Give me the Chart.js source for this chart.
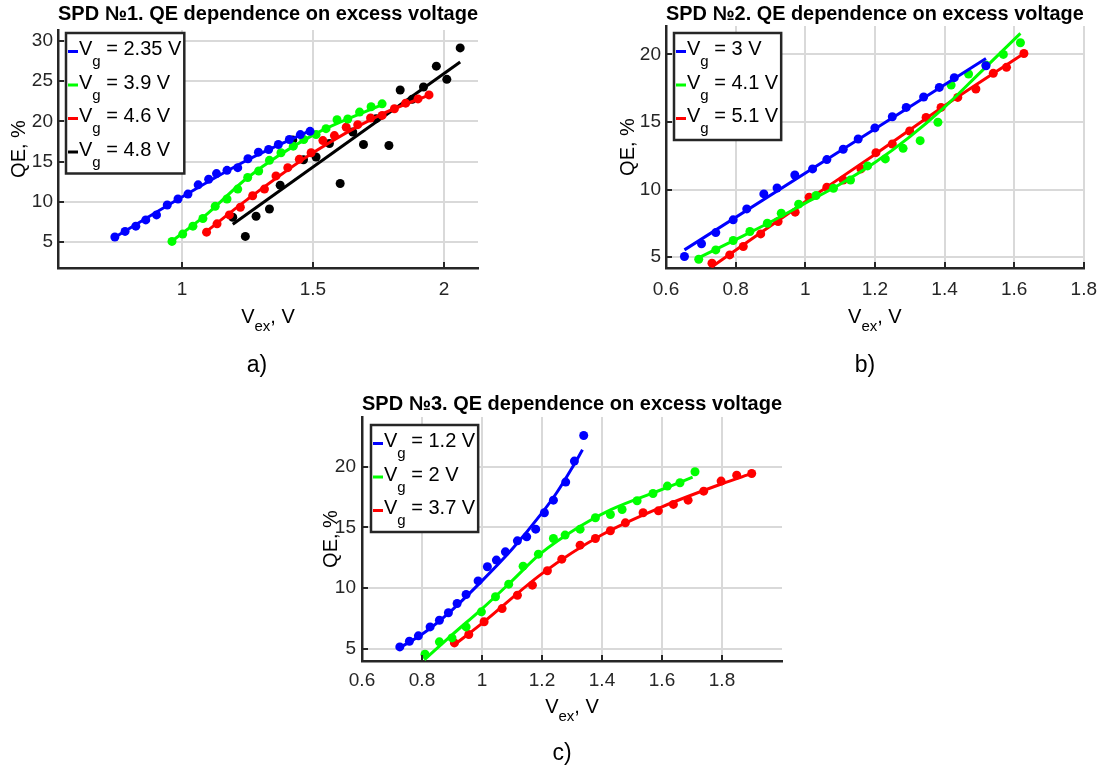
<!DOCTYPE html>
<html>
<head>
<meta charset="utf-8">
<title>SPD QE dependence on excess voltage</title>
<script src="https://cdn.jsdelivr.net/npm/chart.js@4.4.1/dist/chart.umd.min.js"></script>
<style>
  html, body { margin: 0; padding: 0; background: #fff; }
  body { width: 1107px; height: 768px; position: relative; overflow: hidden; }
  .panel { position: absolute; }
</style>
</head>
<body>
<div class="panel" style="left:0px;top:0px;width:500px;height:385px"><canvas id="chartA"></canvas></div>
<div class="panel" style="left:560px;top:0px;width:547px;height:385px"><canvas id="chartB"></canvas></div>
<div class="panel" style="left:262px;top:385px;width:540px;height:383px"><canvas id="chartC"></canvas></div>
<script>
// ---- a) SPD №1 ----
var aTicksX = [1, 1.5, 2];
var aTicksY = [5, 10, 15, 20, 25, 30];
var aGate = ['2.35', '3.9', '4.6', '4.8'];

var aVex235 = [0.744, 0.783, 0.824, 0.862, 0.903, 0.944, 0.985, 1.023, 1.062, 1.102, 1.132, 1.172, 1.213, 1.252, 1.292, 1.331, 1.368, 1.41, 1.452, 1.489];
var aQe235  = [5.62, 6.32, 6.97, 7.75, 8.37, 9.6, 10.35, 10.96, 12.11, 12.81, 13.51, 13.92, 14.25, 15.36, 16.18, 16.51, 17.13, 17.75, 18.36, 18.77];
var aFitX235 = [0.744, 1.0, 1.25, 1.5];
var aFitY235 = [5.6, 10.6, 15.2, 19.0];

var aVex39 = [0.962, 1.003, 1.042, 1.08, 1.127, 1.172, 1.213, 1.251, 1.293, 1.334, 1.378, 1.425, 1.465, 1.512, 1.55, 1.592, 1.633, 1.678, 1.722, 1.764];
var aQe39  = [5.08, 5.99, 6.97, 7.92, 9.44, 10.35, 11.58, 13.02, 13.84, 15.16, 16.1, 16.92, 17.75, 18.36, 19.1, 20.21, 20.3, 21.16, 21.82, 22.19];
var aFitX39 = [0.958, 1.1, 1.25, 1.5, 1.773];
var aFitY39 = [5.0, 8.6, 13.0, 18.3, 22.2];

var aVex46 = [1.094, 1.134, 1.181, 1.223, 1.27, 1.315, 1.359, 1.404, 1.448, 1.493, 1.538, 1.582, 1.627, 1.671, 1.72, 1.764, 1.811, 1.854, 1.901, 1.943];
var aQe46  = [6.23, 7.26, 8.37, 9.32, 10.76, 11.58, 13.22, 14.25, 15.28, 16.1, 17.62, 18.24, 19.27, 19.6, 20.42, 20.75, 21.57, 22.27, 22.8, 23.3];
var aFitX46 = [1.085, 1.25, 1.5, 1.75, 1.952];
var aFitY46 = [6.1, 10.3, 16.1, 20.7, 23.4];

var aVex48 = [1.194, 1.242, 1.283, 1.334, 1.375, 1.423, 1.464, 1.512, 1.563, 1.604, 1.652, 1.693, 1.741, 1.79, 1.833, 1.879, 1.922, 1.971, 2.011, 2.062];
var aQe48  = [8.08, 5.70, 8.21, 9.11, 12.07, 17.7, 15.24, 15.57, 17.25, 12.28, 18.69, 17.13, 20.34, 17.0, 23.91, 22.76, 24.28, 26.87, 25.23, 29.14];
var aFitX48 = [1.194, 2.062];
var aFitY48 = [7.2, 27.4];

// ---- b) SPD №2 ----
var bTicksX = [0.6, 0.8, 1, 1.2, 1.4, 1.6, 1.8];
var bTicksY = [5, 10, 15, 20];
var bGate = ['3', '4.1', '5.1'];

var bVex3 = [0.653, 0.702, 0.743, 0.793, 0.832, 0.881, 0.919, 0.970, 1.021, 1.062, 1.109, 1.152, 1.2, 1.25, 1.29, 1.34, 1.385, 1.428, 1.519];
var bQe3  = [5.05, 5.99, 6.82, 7.76, 8.57, 9.68, 10.12, 11.08, 11.53, 12.22, 12.98, 13.74, 14.56, 15.39, 16.08, 16.85, 17.56, 18.28, 19.16];
var bFitX3 = [0.653, 1.519];
var bFitY3 = [5.54, 19.7];

var bVex41 = [0.694, 0.743, 0.793, 0.841, 0.891, 0.931, 0.981, 1.031, 1.081, 1.130, 1.179, 1.230, 1.281, 1.330, 1.381, 1.419, 1.469, 1.519, 1.569, 1.618];
var bQe41  = [4.85, 5.54, 6.23, 6.90, 7.51, 8.25, 8.92, 9.56, 10.10, 10.71, 11.75, 12.27, 13.05, 13.62, 14.98, 17.73, 18.55, 19.21, 20.0, 20.86];
var bFitX41 = [0.686, 0.8, 0.9, 1.0, 1.1, 1.2, 1.3, 1.4, 1.5, 1.618];
var bFitY41 = [4.85, 6.3, 7.6, 9.0, 10.4, 12.0, 13.9, 16.1, 18.6, 21.55];

var bVex51 = [0.732, 0.783, 0.822, 0.872, 0.922, 0.971, 1.011, 1.062, 1.109, 1.160, 1.203, 1.25, 1.3, 1.347, 1.39, 1.438, 1.49, 1.54, 1.578, 1.628];
var bQe51  = [4.56, 5.17, 5.79, 6.72, 7.64, 8.33, 9.43, 10.17, 10.71, 11.53, 12.73, 13.37, 14.33, 15.34, 16.08, 16.82, 17.44, 18.6, 19.04, 20.07];
var bFitX51 = [0.732, 1.0, 1.2, 1.4, 1.628];
var bFitY51 = [4.3, 9.1, 12.6, 16.2, 20.07];

// ---- c) SPD №3 ----
var cTicksX = [0.6, 0.8, 1, 1.2, 1.4, 1.6, 1.8];
var cTicksY = [5, 10, 15, 20];
var cGate = ['1.2', '2', '3.7'];

var cVex12 = [0.726, 0.758, 0.788, 0.827, 0.858, 0.888, 0.917, 0.947, 0.987, 1.018, 1.048, 1.078, 1.118, 1.149, 1.179, 1.208, 1.238, 1.279, 1.308, 1.339];
var cQe12  = [5.16, 5.63, 6.07, 6.81, 7.36, 7.97, 8.74, 9.48, 10.6, 11.76, 12.31, 12.99, 13.9, 14.23, 14.86, 16.21, 17.25, 18.74, 20.47, 22.58];
var cFitX12 = [0.726, 0.8, 0.9, 1.0, 1.1, 1.2, 1.25, 1.3, 1.335];
var cFitY12 = [5.1, 6.2, 8.2, 10.6, 13.2, 16.2, 17.9, 19.9, 21.4];

var cVex2 = [0.81, 0.858, 0.9, 0.947, 0.998, 1.045, 1.089, 1.137, 1.188, 1.238, 1.277, 1.327, 1.378, 1.428, 1.467, 1.517, 1.57, 1.618, 1.66, 1.71];
var cQe2  = [4.56, 5.58, 5.9, 6.81, 8.05, 9.29, 10.33, 11.81, 12.8, 14.09, 14.37, 14.86, 15.8, 16.07, 16.48, 17.2, 17.8, 18.41, 18.68, 19.59];
var cFitX2 = [0.808, 0.9, 1.0, 1.1, 1.193, 1.327, 1.428, 1.618, 1.702];
var cFitY2 = [4.1, 6.15, 8.3, 10.6, 12.8, 15.1, 16.45, 18.3, 19.15];

var cVex37 = [0.908, 0.956, 1.007, 1.067, 1.118, 1.168, 1.218, 1.266, 1.327, 1.378, 1.428, 1.478, 1.537, 1.588, 1.638, 1.687, 1.739, 1.797, 1.849, 1.899];
var cQe37  = [5.49, 6.18, 7.23, 8.32, 9.42, 10.25, 11.43, 12.39, 13.54, 14.09, 14.73, 15.38, 16.21, 16.37, 16.9, 17.25, 17.99, 18.82, 19.31, 19.45];
var cFitX37 = [0.906, 1.0, 1.2, 1.4, 1.6, 1.8, 1.9];
var cFitY37 = [5.3, 7.1, 11.2, 14.4, 16.7, 18.6, 19.45];

var blue = '#0000ff', green = '#00ff00', red = '#ff0000', black = '#000000';
var fontFamily = "'Liberation Sans', Arial, Helvetica, sans-serif";
var inkColor = '#262626';

function pts(xs, ys) {
    return xs.map(function(x, i) { return {x: x, y: ys[i]}; });
}

function buildDatasets(series) {
    var ds = [];
    series.forEach(function(s) {
        ds.push({
            data: pts(s.vex, s.qe),
            showLine: false,
            pointRadius: 4.5,
            pointHoverRadius: 4.5,
            backgroundColor: s.color,
            borderColor: s.color,
            borderWidth: 0
        });
        ds.push({
            data: pts(s.fitX, s.fitY),
            showLine: true,
            pointRadius: 0,
            borderColor: s.color,
            borderWidth: 3,
            cubicInterpolationMode: 'monotone',
            fill: false
        });
    });
    return ds;
}

// matlab-like extras: inward ticks, legend and x label with subscripts, panel letter
var matlabDecor = {
    id: 'matlabDecor',
    afterDraw: function(chart, args, o) {
        var ctx = chart.ctx, area = chart.chartArea;
        var sx = chart.scales.x, sy = chart.scales.y;
        var big = '20px ' + fontFamily, small = '15px ' + fontFamily;
        ctx.save();

        ctx.strokeStyle = inkColor;
        ctx.lineWidth = 2;
        ctx.beginPath();
        sx.ticks.forEach(function(t) {
            var p = Math.round(sx.getPixelForValue(t.value));
            ctx.moveTo(p, area.bottom);
            ctx.lineTo(p, area.bottom - 6);
        });
        sy.ticks.forEach(function(t) {
            var p = Math.round(sy.getPixelForValue(t.value));
            ctx.moveTo(area.left, p);
            ctx.lineTo(area.left + 6, p);
        });
        ctx.stroke();

        // x axis title
        ctx.fillStyle = '#000';
        ctx.textAlign = 'left';
        ctx.textBaseline = 'alphabetic';
        ctx.font = big;
        var w1 = ctx.measureText('V').width;
        var w3 = ctx.measureText(', V').width;
        ctx.font = small;
        var w2 = ctx.measureText('ex').width;
        var tx = (area.left + area.right) / 2 - (w1 + w2 + w3) / 2;
        var tb = o.xTitleBaseline;
        ctx.font = big;
        ctx.fillText('V', tx, tb);
        ctx.font = small;
        ctx.fillText('ex', tx + w1, tb + 8);
        ctx.font = big;
        ctx.fillText(', V', tx + w1 + w2, tb);

        // legend
        var lx = area.left + o.legendDx, ly = area.top + o.legendDy;
        var rows = o.gate.map(function(g) { return ' = ' + g + ' V'; });
        ctx.font = big;
        var wV = ctx.measureText('V').width;
        var wMax = 0;
        rows.forEach(function(r) { wMax = Math.max(wMax, ctx.measureText(r).width); });
        ctx.font = small;
        var wg = ctx.measureText('g').width;
        var bw = 13 + wV + wg + wMax + 3;
        var bh = 22 + (rows.length - 1) * 33.5 + 18;
        ctx.fillStyle = '#fff';
        ctx.fillRect(lx, ly, bw, bh);
        rows.forEach(function(r, i) {
            var base = ly + 22 + i * 33.5;
            ctx.strokeStyle = o.colors[i];
            ctx.lineWidth = 3;
            ctx.beginPath();
            ctx.moveTo(lx + 2, base - 3.5);
            ctx.lineTo(lx + 12, base - 3.5);
            ctx.stroke();
            ctx.fillStyle = '#000';
            ctx.font = big;
            ctx.fillText('V', lx + 13, base);
            ctx.font = small;
            ctx.fillText('g', lx + 13 + wV, base + 11);
            ctx.font = big;
            ctx.fillText(r, lx + 13 + wV + wg, base);
        });
        ctx.strokeStyle = inkColor;
        ctx.lineWidth = 2.5;
        ctx.strokeRect(lx, ly, bw, bh);

        // panel letter
        ctx.fillStyle = '#000';
        ctx.font = '23px ' + fontFamily;
        ctx.textAlign = 'center';
        ctx.textBaseline = 'middle';
        ctx.fillText(o.panel, o.panelX, o.panelY);
        ctx.restore();
    }
};

function criarGrafico(id, c) {
    var config = {
        type: 'scatter',
        data: { datasets: buildDatasets(c.series) },
        plugins: [matlabDecor],
        options: {
            responsive: true,
            maintainAspectRatio: false,
            animation: false,
            devicePixelRatio: 1,
            layout: { padding: c.padding },
            plugins: {
                legend: { display: false },
                tooltip: { enabled: false },
                title: {
                    display: true,
                    text: c.title,
                    fullSize: false,
                    color: '#000',
                    font: { family: fontFamily, size: 20, weight: 'bold' },
                    padding: c.titlePad
                },
                matlabDecor: {
                    xTitleBaseline: c.xTitleBaseline,
                    legendDx: c.legendDx,
                    legendDy: c.legendDy,
                    gate: c.gate,
                    colors: c.series.map(function(s) { return s.color; }),
                    panel: c.panel,
                    panelX: c.panelX,
                    panelY: c.panelY
                }
            },
            scales: {
                x: {
                    type: 'linear',
                    min: c.xMin,
                    max: c.xMax,
                    afterBuildTicks: function(s) { s.ticks = c.xTicks.map(function(v) { return {value: v}; }); },
                    afterFit: function(s) { s.height = c.xHeight; },
                    grid: { color: '#d9d9d9', lineWidth: 2, drawTicks: false },
                    border: { color: inkColor, width: 2.5 },
                    ticks: {
                        color: inkColor,
                        font: { family: fontFamily, size: 19 },
                        padding: c.xTickPad,
                        maxRotation: 0,
                        autoSkip: false,
                        callback: function(v) { return String(v); }
                    }
                },
                y: {
                    type: 'linear',
                    min: c.yMin,
                    max: c.yMax,
                    afterBuildTicks: function(s) { s.ticks = c.yTicks.map(function(v) { return {value: v}; }); },
                    afterFit: function(s) { s.width = c.yWidth; },
                    grid: { color: '#d9d9d9', lineWidth: 2, drawTicks: false },
                    border: { color: inkColor, width: 2.5 },
                    title: {
                        display: true,
                        text: 'QE, %',
                        color: '#000',
                        font: { family: fontFamily, size: 20 },
                        padding: { top: 7, bottom: 0 }
                    },
                    ticks: {
                        color: inkColor,
                        font: { family: fontFamily, size: 19 },
                        padding: c.yTickPad,
                        autoSkip: false,
                        callback: function(v) { return String(v); }
                    }
                }
            }
        }
    };
    return new Chart(document.getElementById(id), config);
}

criarGrafico('chartA', {
    title: 'SPD №1. QE dependence on excess voltage',
    series: [
        {vex: aVex235, qe: aQe235, fitX: aFitX235, fitY: aFitY235, color: blue},
        {vex: aVex39, qe: aQe39, fitX: aFitX39, fitY: aFitY39, color: green},
        {vex: aVex46, qe: aQe46, fitX: aFitX46, fitY: aFitY46, color: red},
        {vex: aVex48, qe: aQe48, fitX: aFitX48, fitY: aFitY48, color: black}
    ],
    gate: aGate,
    xMin: 0.527, xMax: 2.13, yMin: 1.77, yMax: 31.37,
    xTicks: aTicksX, yTicks: aTicksY,
    padding: {left: 0, right: 22, top: 0, bottom: 0},
    titlePad: {top: 2, bottom: 4},
    yWidth: 58, xHeight: 117, xTickPad: 10, yTickPad: 5,
    legendDx: 8, legendDy: 3,
    xTitleBaseline: 323,
    panel: 'a)', panelX: 257, panelY: 366
});

criarGrafico('chartB', {
    title: 'SPD №2. QE dependence on excess voltage',
    series: [
        {vex: bVex3, qe: bQe3, fitX: bFitX3, fitY: bFitY3, color: blue},
        {vex: bVex41, qe: bQe41, fitX: bFitX41, fitY: bFitY41, color: green},
        {vex: bVex51, qe: bQe51, fitX: bFitX51, fitY: bFitY51, color: red}
    ],
    gate: bGate,
    xMin: 0.6, xMax: 1.8, yMin: 4.2, yMax: 22.1,
    xTicks: bTicksX, yTicks: bTicksY,
    padding: {left: 49, right: 21, top: 0, bottom: 0},
    titlePad: {top: 2, bottom: 0},
    yWidth: 57, xHeight: 117, xTickPad: 10, yTickPad: 5,
    legendDx: 8, legendDy: 7,
    xTitleBaseline: 323,
    panel: 'b)', panelX: 305, panelY: 366
});

criarGrafico('chartC', {
    title: 'SPD №3. QE dependence on excess voltage',
    series: [
        {vex: cVex12, qe: cQe12, fitX: cFitX12, fitY: cFitY12, color: blue},
        {vex: cVex2, qe: cQe2, fitX: cFitX2, fitY: cFitY2, color: green},
        {vex: cVex37, qe: cQe37, fitX: cFitX37, fitY: cFitY37, color: red}
    ],
    gate: cGate,
    xMin: 0.6, xMax: 2.0, yMin: 4.0, yMax: 24.1,
    xTicks: cTicksX, yTicks: cTicksY,
    padding: {left: 50, right: 20, top: 0, bottom: 0},
    titlePad: {top: 7, bottom: 1},
    yWidth: 50, xHeight: 107, xTickPad: 8, yTickPad: 6,
    legendDx: 9, legendDy: 8,
    xTitleBaseline: 328,
    panel: 'c)', panelX: 300, panelY: 369
});
</script>
</body>
</html>
